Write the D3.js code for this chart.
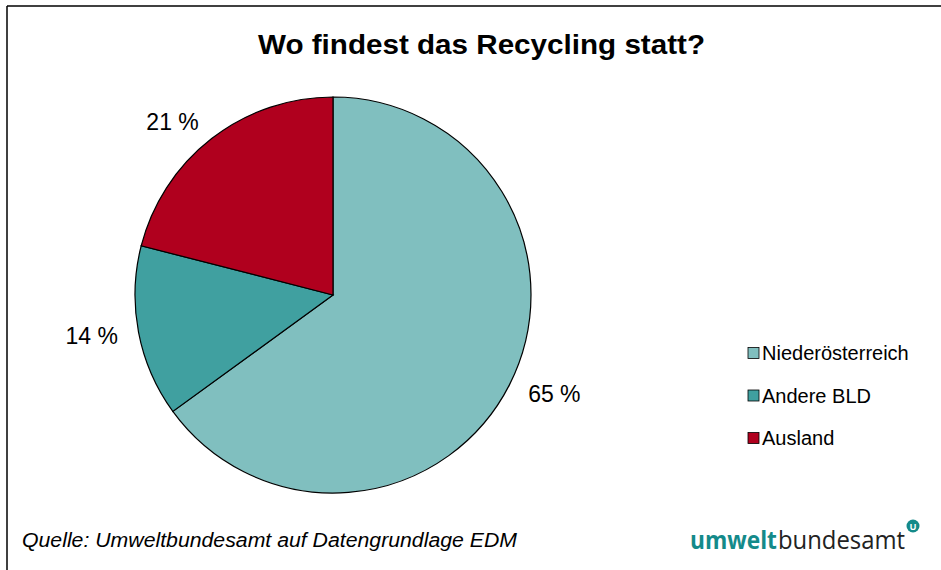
<!DOCTYPE html>
<html>
<head>
<meta charset="utf-8">
<script src="https://cdn.jsdelivr.net/npm/d3@7"></script>
<style>
  body { margin: 0; background: #fff; }
  text { font-family: "Liberation Sans", Arial, sans-serif; }
</style>
</head>
<body>
<div id="chart"></div>
<script>
// data
var categories = ["Niederösterreich", "Andere BLD", "Ausland"];
var values = [65, 14, 21];
var labels = ["65 %", "14 %", "21 %"];
var colors = ["#80BFBF", "#40A0A0", "#B0001E"];

var width = 941, height = 570;

var svg = d3.select("#chart")
    .append("svg")
    .attr("width", width)
    .attr("height", height);

// frame (only top and left visible)
svg.append("line").attr("x1", 7).attr("y1", 6).attr("x2", width).attr("y2", 6)
    .attr("stroke", "#000").attr("stroke-width", 1.5);
svg.append("line").attr("x1", 7).attr("y1", 6).attr("x2", 7).attr("y2", height)
    .attr("stroke", "#000").attr("stroke-width", 1.5);

svg.append("text")
    .attr("x", 258).attr("y", 54)
    .attr("font-size", 27).attr("font-weight", "bold")
    .attr("textLength", 447).attr("lengthAdjust", "spacingAndGlyphs")
    .text("Wo findest das Recycling statt?");

var cx = 333, cy = 295, r = 198;

var pie = d3.pie().sort(null).value(function (d) { return d; });
var arcs = pie(values);
var arc = d3.arc().innerRadius(0).outerRadius(r);
var labelArc = d3.arc().innerRadius(r + 21).outerRadius(r + 21);

var g = svg.append("g").attr("transform", "translate(" + cx + "," + cy + ")");

g.selectAll(".slice")
    .data(arcs)
    .enter().append("path")
    .attr("class", "slice")
    .attr("d", arc)
    .attr("fill", function (d, i) { return colors[i]; })
    .attr("stroke", "#000")
    .attr("stroke-width", 1.2);

g.selectAll(".lbl")
    .data(arcs)
    .enter().append("text")
    .attr("class", "lbl")
    .attr("transform", function (d) { return "translate(" + labelArc.centroid(d) + ")"; })
    .attr("dy", "0.35em")
    .attr("text-anchor", function (d) { return labelArc.centroid(d)[0] < 0 ? "end" : "start"; })
    .attr("font-size", 23)
    .text(function (d, i) { return labels[i]; });

// legend
var legend = svg.append("g").attr("transform", "translate(748,353)");
var rows = legend.selectAll(".row")
    .data(categories)
    .enter().append("g")
    .attr("class", "row")
    .attr("transform", function (d, i) { return "translate(0," + i * 42.5 + ")"; });
rows.append("rect")
    .attr("x", 0).attr("y", -5.5)
    .attr("width", 11).attr("height", 11)
    .attr("fill", function (d, i) { return colors[i]; })
    .attr("stroke", "#000").attr("stroke-width", 0.8);
rows.append("text")
    .attr("x", 14).attr("y", 0)
    .attr("dy", "0.35em")
    .attr("font-size", 20)
    .text(function (d) { return d; });

// source note
svg.append("text")
    .attr("x", 22).attr("y", 547)
    .attr("font-size", 20).attr("font-style", "italic")
    .attr("textLength", 495).attr("lengthAdjust", "spacingAndGlyphs")
    .text("Quelle: Umweltbundesamt auf Datengrundlage EDM");

// logo
svg.append("text")
    .attr("x", 690).attr("y", 549)
    .attr("font-size", 25).attr("font-weight", "bold")
    .attr("fill", "#148A8A")
    .attr("textLength", 87).attr("lengthAdjust", "spacingAndGlyphs")
    .style("font-family", "'Open Sans', 'DejaVu Sans', sans-serif")
    .text("umwelt");
svg.append("text")
    .attr("x", 778).attr("y", 549)
    .attr("font-size", 25)
    .attr("fill", "#222")
    .attr("textLength", 127).attr("lengthAdjust", "spacingAndGlyphs")
    .style("font-family", "'Open Sans', 'DejaVu Sans', sans-serif")
    .text("bundesamt");
svg.append("circle").attr("cx", 913).attr("cy", 526).attr("r", 6.5).attr("fill", "#148A8A");
svg.append("text").attr("x", 913).attr("y", 529.5)
    .attr("text-anchor", "middle").attr("font-size", 9).attr("font-weight", "bold")
    .attr("fill", "#fff").text("U");
</script>
</body>
</html>
